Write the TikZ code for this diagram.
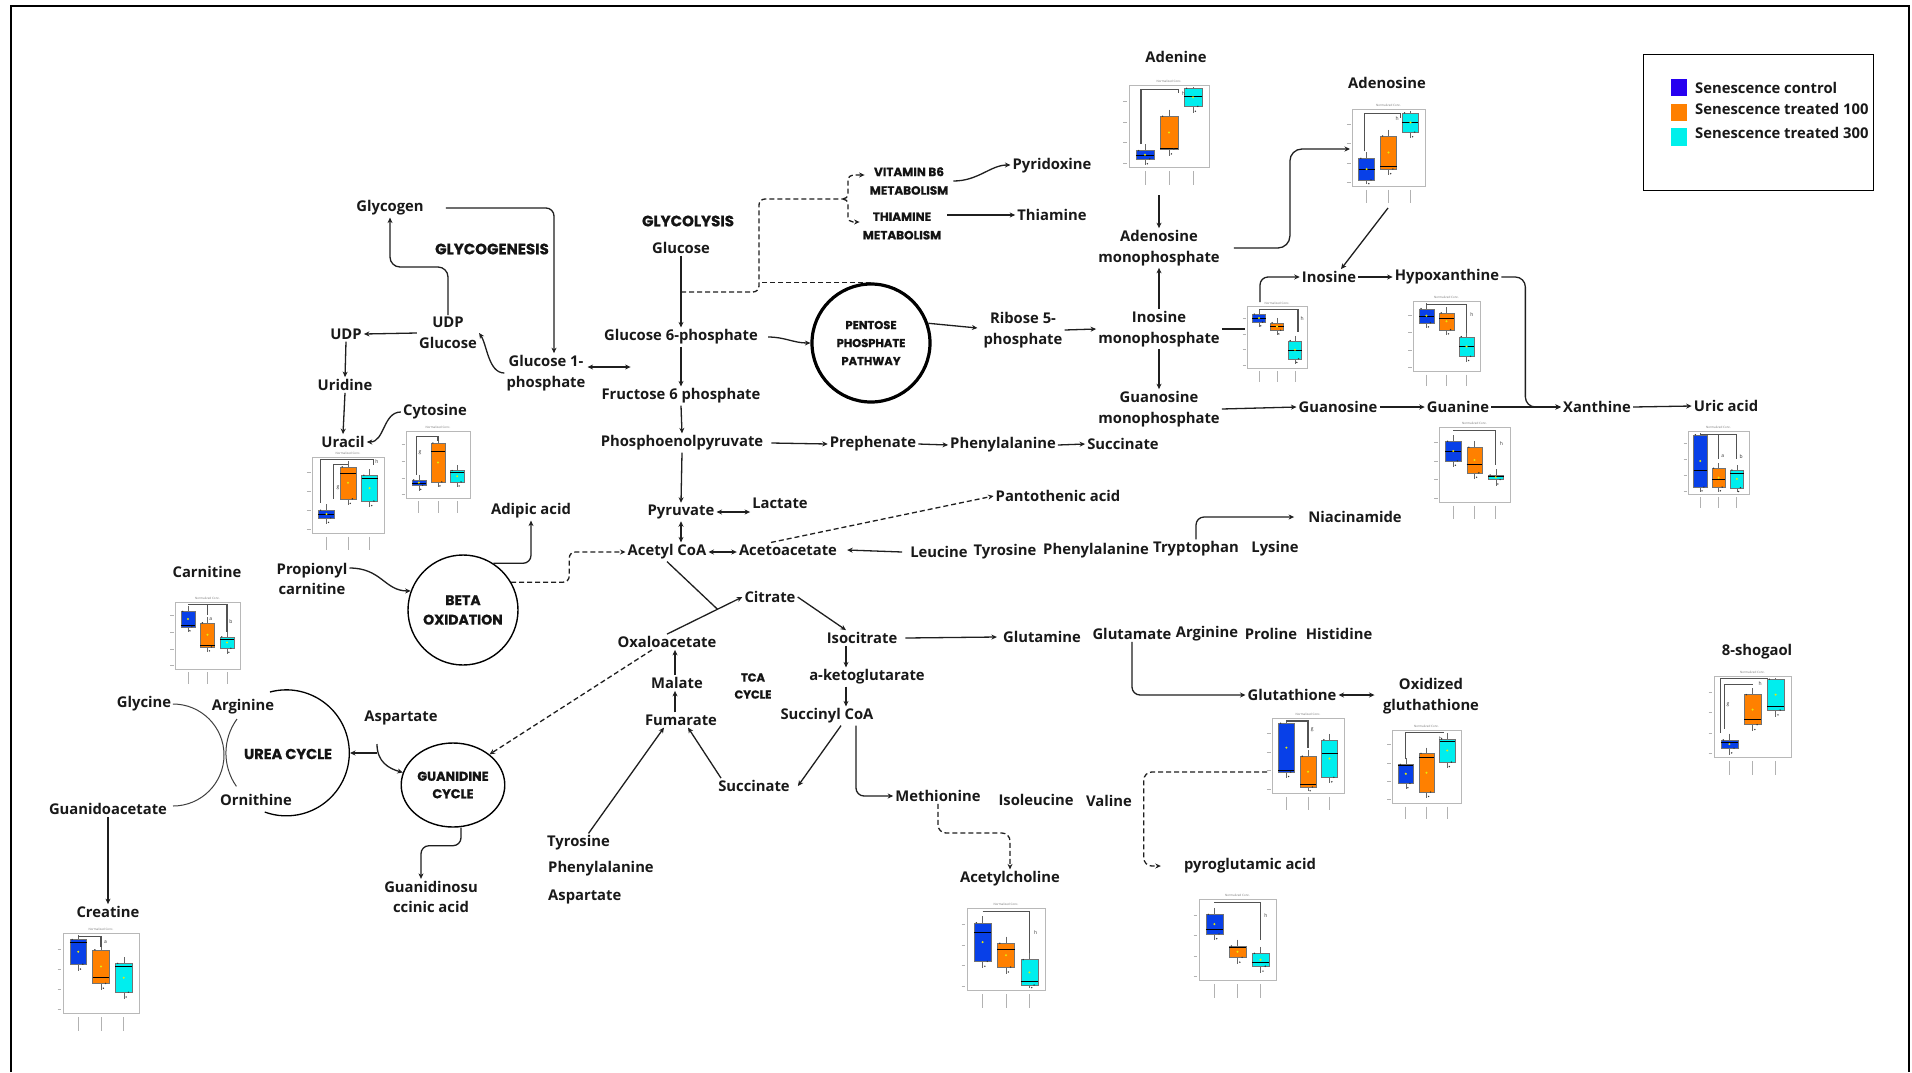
\documentclass[tikz,border=0pt]{standalone}
\usepackage{fontspec}
\setmainfont{Open Sans}
\newfontfamily\hdfont{Poppins}[BoldFeatures={FakeBold=0.8}]
\usetikzlibrary{arrows.meta,shapes.geometric,calc}
\definecolor{bxblue}{RGB}{8,64,232}
\definecolor{bxorange}{RGB}{255,128,0}
\definecolor{bxcyan}{RGB}{0,238,238}
\definecolor{lgblue}{RGB}{38,0,240}
\definecolor{lgorange}{RGB}{255,128,0}
\definecolor{lgcyan}{RGB}{0,240,235}
\tikzset{
  lab/.style={font=\bfseries\fontsize{14.8}{20.5}\selectfont, inner sep=2pt, align=center, text=black!90},
  hd/.style 2 args={font=\hdfont\bfseries\fontsize{#1}{#2}\selectfont, align=center, inner sep=1pt, text=black!92},
  con/.style={line width=1.3pt, draw=black!88},
  dsh/.style={con, dash pattern=on 5pt off 3pt},
  thinarc/.style={line width=1pt, draw=black!75},
  plotframe/.style={draw=black!28, line width=0.9pt, fill=white},
  ptitle/.style={font=\fontsize{3}{3}\selectfont, text=black!55, inner sep=0},
  mdot/.style={circle, fill=yellow!90!green, inner sep=0.8pt},
  pdot/.style={circle, fill=black!80, inner sep=0.55pt},
  brk/.style={line width=1.1pt, draw=black!68},
  sig/.style={font=\fontsize{5}{5}\selectfont, inner sep=0, text=black!80},
}
\newcommand\bxplot[8]{%
\begin{scope}[shift={(#1,#2)},xscale=#3,yscale=#4]
\draw[plotframe] (0,0) rectangle (1,1);
\node[ptitle] at (0.5,-0.05) {Normalized Conc.};
\foreach \pY in {0.2,0.45,0.7,0.95} {\draw[black!30,line width=0.4pt] (-0.07,\pY) -- (-0.02,\pY);}
\foreach \pT/\pB/\pM/\pC/\pX in {#5/bxblue/0.2,#6/bxorange/0.5,#7/bxcyan/0.8} {
  \draw[black!60,line width=0.5pt] (\pX,{max(\pT-0.08,0.03)}) -- (\pX,{min(\pB+0.08,0.97)});
  \filldraw[fill=\pC,draw=black!55,line width=0.4pt] ({\pX-0.11},\pT) rectangle ({\pX+0.11},\pB);
  \draw[line width=0.8pt] ({\pX-0.11},\pM) -- ({\pX+0.11},\pM);
  \node[mdot] at (\pX,{(\pT+\pB)/2}) {};
  \node[pdot] at ({\pX-0.08},\pT) {};
  \node[pdot] at ({\pX+0.06},\pB) {};
  \node[pdot] at ({\pX+0.03},{min(\pB+0.06,0.97)}) {};
  \draw[black!30,line width=0.8pt] (\pX,1.05) -- (\pX,1.22);
}
#8
\end{scope}}
\begin{document}
\begin{tikzpicture}[x=1pt,y=-1pt,>={Stealth[length=5.5pt,width=5pt]}]
\useasboundingbox (0,0) rectangle (1912,1072);
\fill[white] (0,0) rectangle (1912,1072);
\draw[line width=2.2pt] (11,1072) -- (11,6) -- (1909,6) -- (1909,1072);

% ---------- plots ----------
\bxplot{1129}{85}{80}{82}{0.80/0.90/0.86}{0.38/0.78/0.77}{0.04/0.26/0.14}{\draw[brk] (0.15,0.72) |- (0.62,0.05) -- (0.62,0.1); \node[sig] at (0.68,0.1) {h};}
\bxplot{1352}{109}{73}{77}{0.64/0.92/0.78}{0.35/0.78/0.74}{0.05/0.30/0.17}{\draw[brk] (0.17,0.55) |- (0.66,0.06) -- (0.66,0.12); \node[sig] at (0.62,0.13) {h};}
\bxplot{1247}{306}{60}{62}{0.13/0.26/0.2}{0.27/0.39/0.33}{0.56/0.85/0.72}{\draw[brk] (0.2,0.05) -- (0.85,0.05) -- (0.85,0.42); \node[sig] at (0.92,0.2) {h};}
\bxplot{1413}{301}{67}{70}{0.11/0.31/0.22}{0.17/0.41/0.25}{0.51/0.79/0.65}{\draw[brk] (0.2,0.05) -- (0.8,0.05) -- (0.8,0.45); \node[sig] at (0.88,0.2) {h};}
\bxplot{1439}{427}{71}{75}{0.19/0.45/0.33}{0.27/0.61/0.5}{0.64/0.70/0.66}{\draw[brk] (0.2,0.05) -- (0.8,0.05) -- (0.8,0.5); \node[sig] at (0.88,0.22) {h};}
\bxplot{1688}{431}{61}{63}{0.06/0.89/0.63}{0.59/0.89/0.77}{0.62/0.90/0.68}{\draw[brk] (0.2,0.05) -- (0.8,0.05) -- (0.8,0.45); \draw[brk] (0.5,0.05) -- (0.5,0.45); \node[sig] at (0.57,0.4) {a}; \node[sig] at (0.87,0.4) {b};}
\bxplot{312}{457}{72}{76}{0.70/0.80/0.76}{0.13/0.55/0.22}{0.24/0.58/0.28}{\draw[brk] (0.12,0.6) |- (0.85,0.03) -- (0.85,0.1); \draw[brk] (0.3,0.55) |- (0.5,0.1); \node[sig] at (0.36,0.4) {g}; \node[sig] at (0.9,0.06) {h};}
\bxplot{406}{431}{64}{67}{0.73/0.81/0.78}{0.18/0.76/0.3}{0.59/0.76/0.62}{\draw[brk] (0.17,0.65) |- (0.5,0.08) -- (0.5,0.15); \node[sig] at (0.22,0.32) {g};}
\bxplot{175}{602}{65}{67}{0.14/0.37/0.35}{0.31/0.67/0.65}{0.52/0.69/0.56}{\draw[brk] (0.2,0.04) -- (0.8,0.04) -- (0.8,0.45); \draw[brk] (0.5,0.04) -- (0.5,0.2); \node[sig] at (0.55,0.26) {a}; \node[sig] at (0.86,0.3) {b};}
\bxplot{63}{933}{76}{80}{0.08/0.39/0.12}{0.21/0.63/0.55}{0.38/0.74/0.42}{\draw[brk] (0.2,0.04) -- (0.5,0.04) -- (0.5,0.18); \node[sig] at (0.56,0.12) {a};}
\bxplot{967}{908}{78}{82}{0.18/0.65/0.3}{0.43/0.72/0.5}{0.63/0.94/0.9}{\draw[brk] (0.2,0.04) -- (0.8,0.04) -- (0.8,0.55); \node[sig] at (0.88,0.3) {h};}
\bxplot{1199}{899}{77}{81}{0.19/0.43/0.38}{0.58/0.72/0.6}{0.67/0.83/0.78}{\draw[brk] (0.2,0.04) -- (0.8,0.04) -- (0.8,0.5); \node[sig] at (0.87,0.2) {h};}
\bxplot{1272}{718}{72}{75}{0.07/0.72/0.7}{0.51/0.92/0.88}{0.29/0.79/0.47}{\draw[brk] (0.2,0.04) -- (0.5,0.04) -- (0.5,0.4); \node[sig] at (0.56,0.15) {g};}
\bxplot{1392}{730}{69}{73}{0.47/0.73/0.49}{0.32/0.85/0.37}{0.12/0.44/0.15}{\draw[brk] (0.2,0.4) |- (0.75,0.04); \node[sig] at (0.7,0.12) {h};}
\bxplot{1714}{676}{77}{81}{0.79/0.89/0.82}{0.23/0.6/0.53}{0.04/0.42/0.38}{\draw[brk] (0.08,0.7) |- (0.7,0.03); \draw[brk] (0.14,0.65) |- (0.5,0.1); \node[sig] at (0.18,0.36) {g}; \node[sig] at (0.6,0.09) {h};}

\coordinate (adplot) at (1159,195);
\coordinate (adsplot) at (1350,149);
\coordinate (adsbot) at (1388,208);
\coordinate (impplotL) at (1245,329);
\coordinate (impplotT) at (1260,302);
\coordinate (gsplot) at (1267,772);

% ---------- legend ----------
\node[draw, line width=1.2pt, minimum width=230, minimum height=136, anchor=north west, inner sep=0] (legend) at (1643,54) {};
\node[fill=lgblue, minimum width=16, minimum height=17, inner sep=0] (sqb) at (1679,87.5) {};
\node[fill=lgorange, minimum width=16, minimum height=17, inner sep=0] (sqo) at (1679,112.5) {};
\node[fill=lgcyan, minimum width=16, minimum height=18, inner sep=0] (sqc) at (1679,137) {};
\node[lab, anchor=west] (legb) at (1693,88) {Senescence control};
\node[lab, anchor=west] (lego) at (1693,109) {Senescence treated 100};
\node[lab, anchor=west] (legc) at (1693,133) {Senescence treated 300};

% ---------- glycogenesis ----------
\node[lab] (glycogen) at (390,208) {Glycogen};
\node[hd={15}{18}] (glycogenesis) at (492,249) {GLYCOGENESIS};
\node[lab] (udpglc) at (448,333) {UDP\\Glucose};
\node[lab] (udp) at (346,334) {UDP};
\node[lab] (uridine) at (345,385) {Uridine};
\node[lab] (uracil) at (343,442) {Uracil};
\node[lab] (cytosine) at (435,412) {Cytosine};
\node[lab] (g1p) at (546,373) {Glucose 1-\\phosphate};

% ---------- glycolysis ----------
\node[hd={15}{18}] (glycolysis) at (688,221) {GLYCOLYSIS};
\node[lab] (glucose) at (681,248) {Glucose};
\node[lab] (g6p) at (681,337) {Glucose 6-phosphate};
\node[lab] (f6p) at (681,396) {Fructose 6 phosphate};
\node[lab] (pep) at (682,443) {Phosphoenolpyruvate};
\node[lab] (prephenate) at (873,444) {Prephenate};
\node[lab] (phe1) at (1003,445) {Phenylalanine};
\node[lab] (succ1) at (1123,444) {Succinate};
\node[hd={12}{18.5}] (vitb6) at (909,181) {VITAMIN B6\\METABOLISM};
\node[hd={12}{18.5}] (thiamet) at (902,226) {THIAMINE\\METABOLISM};
\node[lab] (pyridoxine) at (1052,166) {Pyridoxine};
\node[lab] (thiamine) at (1052,215) {Thiamine};
\node[circle, draw, line width=3.2pt, minimum size=118, inner sep=0, hd={11.5}{18}] (ppp) at (871,343) {PENTOSE\\PHOSPHATE\\PATHWAY};
\node[lab] (ribose) at (1023,330) {Ribose 5-\\phosphate};

% ---------- purines ----------
\node[lab] (adenine) at (1176,57) {Adenine};
\node[lab] (adenosine) at (1387,83) {Adenosine};
\node[lab] (amp) at (1159,248) {Adenosine\\monophosphate};
\node[lab] (imp) at (1159,329) {Inosine\\monophosphate};
\node[lab] (gmp) at (1159,409) {Guanosine\\monophosphate};
\node[lab] (inosine) at (1329,277) {Inosine};
\node[lab] (hypox) at (1447,277) {Hypoxanthine};
\node[lab] (guanosine) at (1338,407) {Guanosine};
\node[lab] (guanine) at (1458,407) {Guanine};
\node[lab] (xanthine) at (1597,407) {Xanthine};
\node[lab] (uric) at (1726,406) {Uric acid};

% ---------- pyruvate / acetyl ----------
\node[lab] (pyruvate) at (681,512) {Pyruvate};
\node[lab] (lactate) at (780,503) {Lactate};
\node[lab] (acetyl) at (667,552) {Acetyl CoA};
\node[lab] (acetoacetate) at (788,550) {Acetoacetate};
\node[lab] (leucine) at (939,552) {Leucine};
\node[lab] (tyr2) at (1005,552) {Tyrosine};
\node[lab] (phe2) at (1096,551) {Phenylalanine};
\node[lab] (tryptophan) at (1196,549) {Tryptophan};
\node[lab] (lysine) at (1275,549) {Lysine};
\node[lab] (niacinamide) at (1355,517) {Niacinamide};
\node[lab] (pantothenic) at (1058,496) {Pantothenic acid};
\node[lab] (adipic) at (531,511) {Adipic acid};
\node[lab] (propcarn) at (312,579) {Propionyl\\carnitine};
\node[circle, draw, line width=1.4pt, minimum size=110, inner sep=0, hd={14}{19.5}] (beta) at (463,610) {BETA\\OXIDATION};
\node[lab] (carnitine) at (207,572) {Carnitine};

% ---------- TCA ----------
\node[lab] (citrate) at (770,597) {Citrate};
\node[lab] (isocitrate) at (862,638) {Isocitrate};
\node[lab] (glutamine) at (1042,637) {Glutamine};
\node[lab] (glutamate) at (1132,634) {Glutamate};
\node[lab] (arg2) at (1207,634) {Arginine};
\node[lab] (proline) at (1271,634) {Proline};
\node[lab] (histidine) at (1339,634) {Histidine};
\node[lab] (oxaloacetate) at (667,642) {Oxaloacetate};
\node[lab] (malate) at (677,683) {Malate};
\node[hd={11.5}{17}] (tca) at (753,686) {TCA\\CYCLE};
\node[lab] (fumarate) at (681,720) {Fumarate};
\node[lab] (aketo) at (867,677) {a-ketoglutarate};
\node[lab] (succoa) at (827,716) {Succinyl CoA};
\node[lab] (succ2) at (754,786) {Succinate};
\node[lab, anchor=west] (tyr3) at (545,843) {Tyrosine};
\node[lab, anchor=west] (phe3) at (546,869) {Phenylalanine};
\node[lab, anchor=west] (asp3) at (546,897) {Aspartate};
\node[lab] (methionine) at (938,796) {Methionine};
\node[lab] (isoleucine) at (1036,800) {Isoleucine};
\node[lab] (valine) at (1109,801) {Valine};
\node[lab] (acetylcholine) at (1010,879) {Acetylcholine};
\node[lab] (glutathione) at (1292,695) {Glutathione};
\node[lab] (oxglut) at (1431,696) {Oxidized\\gluthathione};
\node[lab] (pyroglu) at (1250,866) {pyroglutamic acid};
\node[lab] (shogaol) at (1757,652) {8-shogaol};

% ---------- urea / guanidine ----------
\node[lab] (glycine) at (144,704) {Glycine};
\node[lab] (arg1) at (243,707) {Arginine};
\node[hd={14.5}{17}] (urea) at (288,754) {UREA CYCLE};
\node[lab] (ornithine) at (256,800) {Ornithine};
\node[lab] (guanidoacetate) at (108,809) {Guanidoacetate};
\node[lab] (asp1) at (401,718) {Aspartate};
\node[ellipse, draw, line width=1.4pt, minimum width=100, minimum height=84, inner sep=0, hd={12.8}{17.5}] (guanidine) at (453,785) {GUANIDINE\\CYCLE};
\node[lab] (gsa) at (431,897) {Guanidinosu\\ccinic acid};
\node[lab] (creatine) at (108,912) {Creatine};

\coordinate (ugtop) at (377,744);
\coordinate (ugj) at (377,753);
\coordinate (ureaE) at (350,753);
\coordinate (glyarc) at (173,704);
\coordinate (argarc) at (237,719);
\coordinate (bigarc) at (270,692);

% ---------- connectors ----------
\draw[->,con,rounded corners=8pt] ([xshift=20pt]glycogen.east) -| ([xshift=8pt]g1p.north);
\draw[->,con,rounded corners=10pt] (udpglc.north) -- (udpglc.north |- 0,267) -| (glycogen.south);
\draw[->,con] (udpglc.west) -- (udp.east);
\draw[->,con] (udp.south) -- (uridine.north);
\draw[->,con] (uridine.south) -- (uracil.north);
\draw[->,con] (cytosine.west) .. controls +(-18,0) and +(18,0) .. (uracil.east);
\draw[->,con] (g1p.west) .. controls +(-16,0) and +(8,12) .. (udpglc.east);
\draw[<->,con] ([yshift=6pt]g1p.east) -- ++(43,0);

\draw[->,con] (glucose.south) -- (g6p.north);
\coordinate (g6stem) at (glucose.south |- 0,292);
\coordinate (dA) at (759,292);
\coordinate (dB) at (759,199);
\coordinate (br) at (843,199);
\draw[dsh,rounded corners=6pt] (g6stem) -- (dA) -- (dB) -- (br);
\draw[->,dsh,rounded corners=5pt] (br) -- ++(5,0) |- ([xshift=-4pt,yshift=6pt]vitb6.west);
\draw[->,dsh,rounded corners=5pt] (br) -- ++(5,0) |- ([xshift=-2pt,yshift=4pt]thiamet.west);
\draw[dsh] (ppp.north) -- (ppp.north -| dB);
\draw[->,con] ([xshift=4pt]vitb6.east) .. controls +(25,0) and +(-20,0) .. ([yshift=1pt]pyridoxine.west);
\coordinate (thiaS) at ($(thiamet.east |- thiamine.west)+(5,0)$);
\draw[->,con] (thiaS) -- (thiamine.west);
\draw[->,con] ([xshift=8pt]g6p.east) to[out=0,in=180] (ppp.west);
\draw[->,con] (ppp.19) -- ([xshift=-4pt,yshift=2pt]ribose.west);
\draw[->,con] (ribose.east) -- (imp.west);
\draw[->,con] (g6p.south) -- (f6p.north);
\draw[->,con] (f6p.south) -- (pep.north);
\draw[->,con] ([xshift=6pt]pep.east) -- (prephenate.west);
\draw[->,con] (prephenate.east) -- (phe1.west);
\draw[->,con] (phe1.east) -- (succ1.west);
\draw[->,con] (pep.south) -- (pyruvate.north);
\draw[<->,con] (pyruvate.east) -- (lactate.west |- pyruvate.east);
\draw[<->,con] (pyruvate.south) -- (pyruvate.south |- acetyl.north);
\draw[<->,con] (acetyl.east) -- (acetoacetate.west |- acetyl.east);
\draw[->,con] ([xshift=-6pt]leucine.west) -- ([xshift=8pt]acetoacetate.east);
\draw[->,dsh] ([xshift=-17pt]acetoacetate.north) -- (pantothenic.west);
\draw[->,con,rounded corners=8pt] (tryptophan.north) |- ([xshift=-12pt]niacinamide.west);

% purines
\draw[->,con] (adplot) -- (amp.north);
\draw[->,con] (imp.north) -- (amp.south);
\draw[->,con] (imp.south) -- (gmp.north);
\draw[->,con,rounded corners=12pt] ([xshift=12pt]amp.east) -- ++(56,0) |- (adsplot);
\draw[->,con] (adsbot) -- ([xshift=12pt]inosine.north);
\draw[con] (imp.east) -- (impplotL);
\draw[->,con,rounded corners=8pt] (impplotT) |- (inosine.west);
\draw[->,con] (inosine.east) -- (hypox.west);
\draw[->,con,rounded corners=10pt] (hypox.east) -- ++(24,0) |- (xanthine.west);
\draw[->,con] (gmp.east) -- (guanosine.west);
\draw[->,con] (guanosine.east) -- (guanine.west);
\draw[->,con] (guanine.east) -- (xanthine.west);
\draw[->,con] (xanthine.east) -- (uric.west);

% beta oxidation
\draw[->,con,rounded corners=8pt] (beta.57) -| (adipic.south);
\draw[->,dsh,rounded corners=6pt] (beta.30) -- ++(58,0) |- (acetyl.west);
\draw[->,con] ([yshift=11pt]propcarn.east) .. controls +(32,0) and +(-26,0) .. (beta.160);

% TCA
\coordinate (tcaj) at ($(oxaloacetate.north)!0.67!(citrate.west)$);
\draw[con] (acetyl.south) -- (tcaj);
\draw[->,con] (oxaloacetate.north) -- (citrate.west);
\draw[->,con] (citrate.east) -- ([xshift=-16pt]isocitrate.north);
\draw[->,con] ([xshift=6pt]isocitrate.east) -- ([xshift=-4pt]glutamine.west);
\draw[->,con] ([xshift=-16pt]isocitrate.south) -- ([xshift=-21pt]aketo.north);
\draw[->,con] ([xshift=-21pt]aketo.south) -- ([xshift=19pt]succoa.north);
\draw[->,con] ([xshift=14pt]succoa.south) -- ([xshift=6pt]succ2.east);
\draw[->,con] ([xshift=-33pt]succ2.north) -- ([xshift=7pt]fumarate.south);
\draw[->,con] ([xshift=-6pt]fumarate.north) -- ([xshift=-2pt]malate.south);
\draw[->,con] ([xshift=-2pt]malate.north) -- ([xshift=8pt]oxaloacetate.south);
\draw[->,con] ([xshift=10pt]tyr3.north) -- ([xshift=-17pt]fumarate.south);
\draw[->,con,rounded corners=8pt] ([xshift=29pt]succoa.south) |- (methionine.west);
\draw[->,dsh,rounded corners=8pt] (methionine.south) -- (methionine.south |- 0,833) -| (acetylcholine.north);
\draw[->,con,rounded corners=8pt] (glutamate.south) |- (glutathione.west);
\draw[<->,con] (glutathione.east) -- ++(36,0);
\draw[->,dsh,rounded corners=8pt] (gsplot) -| ([xshift=-38pt]pyroglu.west) -- ([xshift=-21pt]pyroglu.west);

% urea / guanidine
\draw[thinarc] (glycine.east) -- (glyarc) arc[start angle=-90, end angle=90, radius=51];
\draw[thinarc] (argarc) arc[start angle=216, end angle=145, radius=58];
\draw[line width=1.3pt] (bigarc) arc[start angle=-105, end angle=110, radius=63];
\draw[->,con] (ugj) -- (ureaE);
\draw[->,con] (ugtop) .. controls +(0,18) and +(-14,-4) .. (guanidine.166);
\draw[->,dsh] ([xshift=-15pt]oxaloacetate.south) -- (guanidine.40);
\draw[->,con,rounded corners=8pt] ([xshift=8pt]guanidine.south) -- ++(0,18) -| ([xshift=-10pt]gsa.north);
\draw[->,con] (guanidoacetate.south) -- (creatine.north);
\end{tikzpicture}
\end{document}
